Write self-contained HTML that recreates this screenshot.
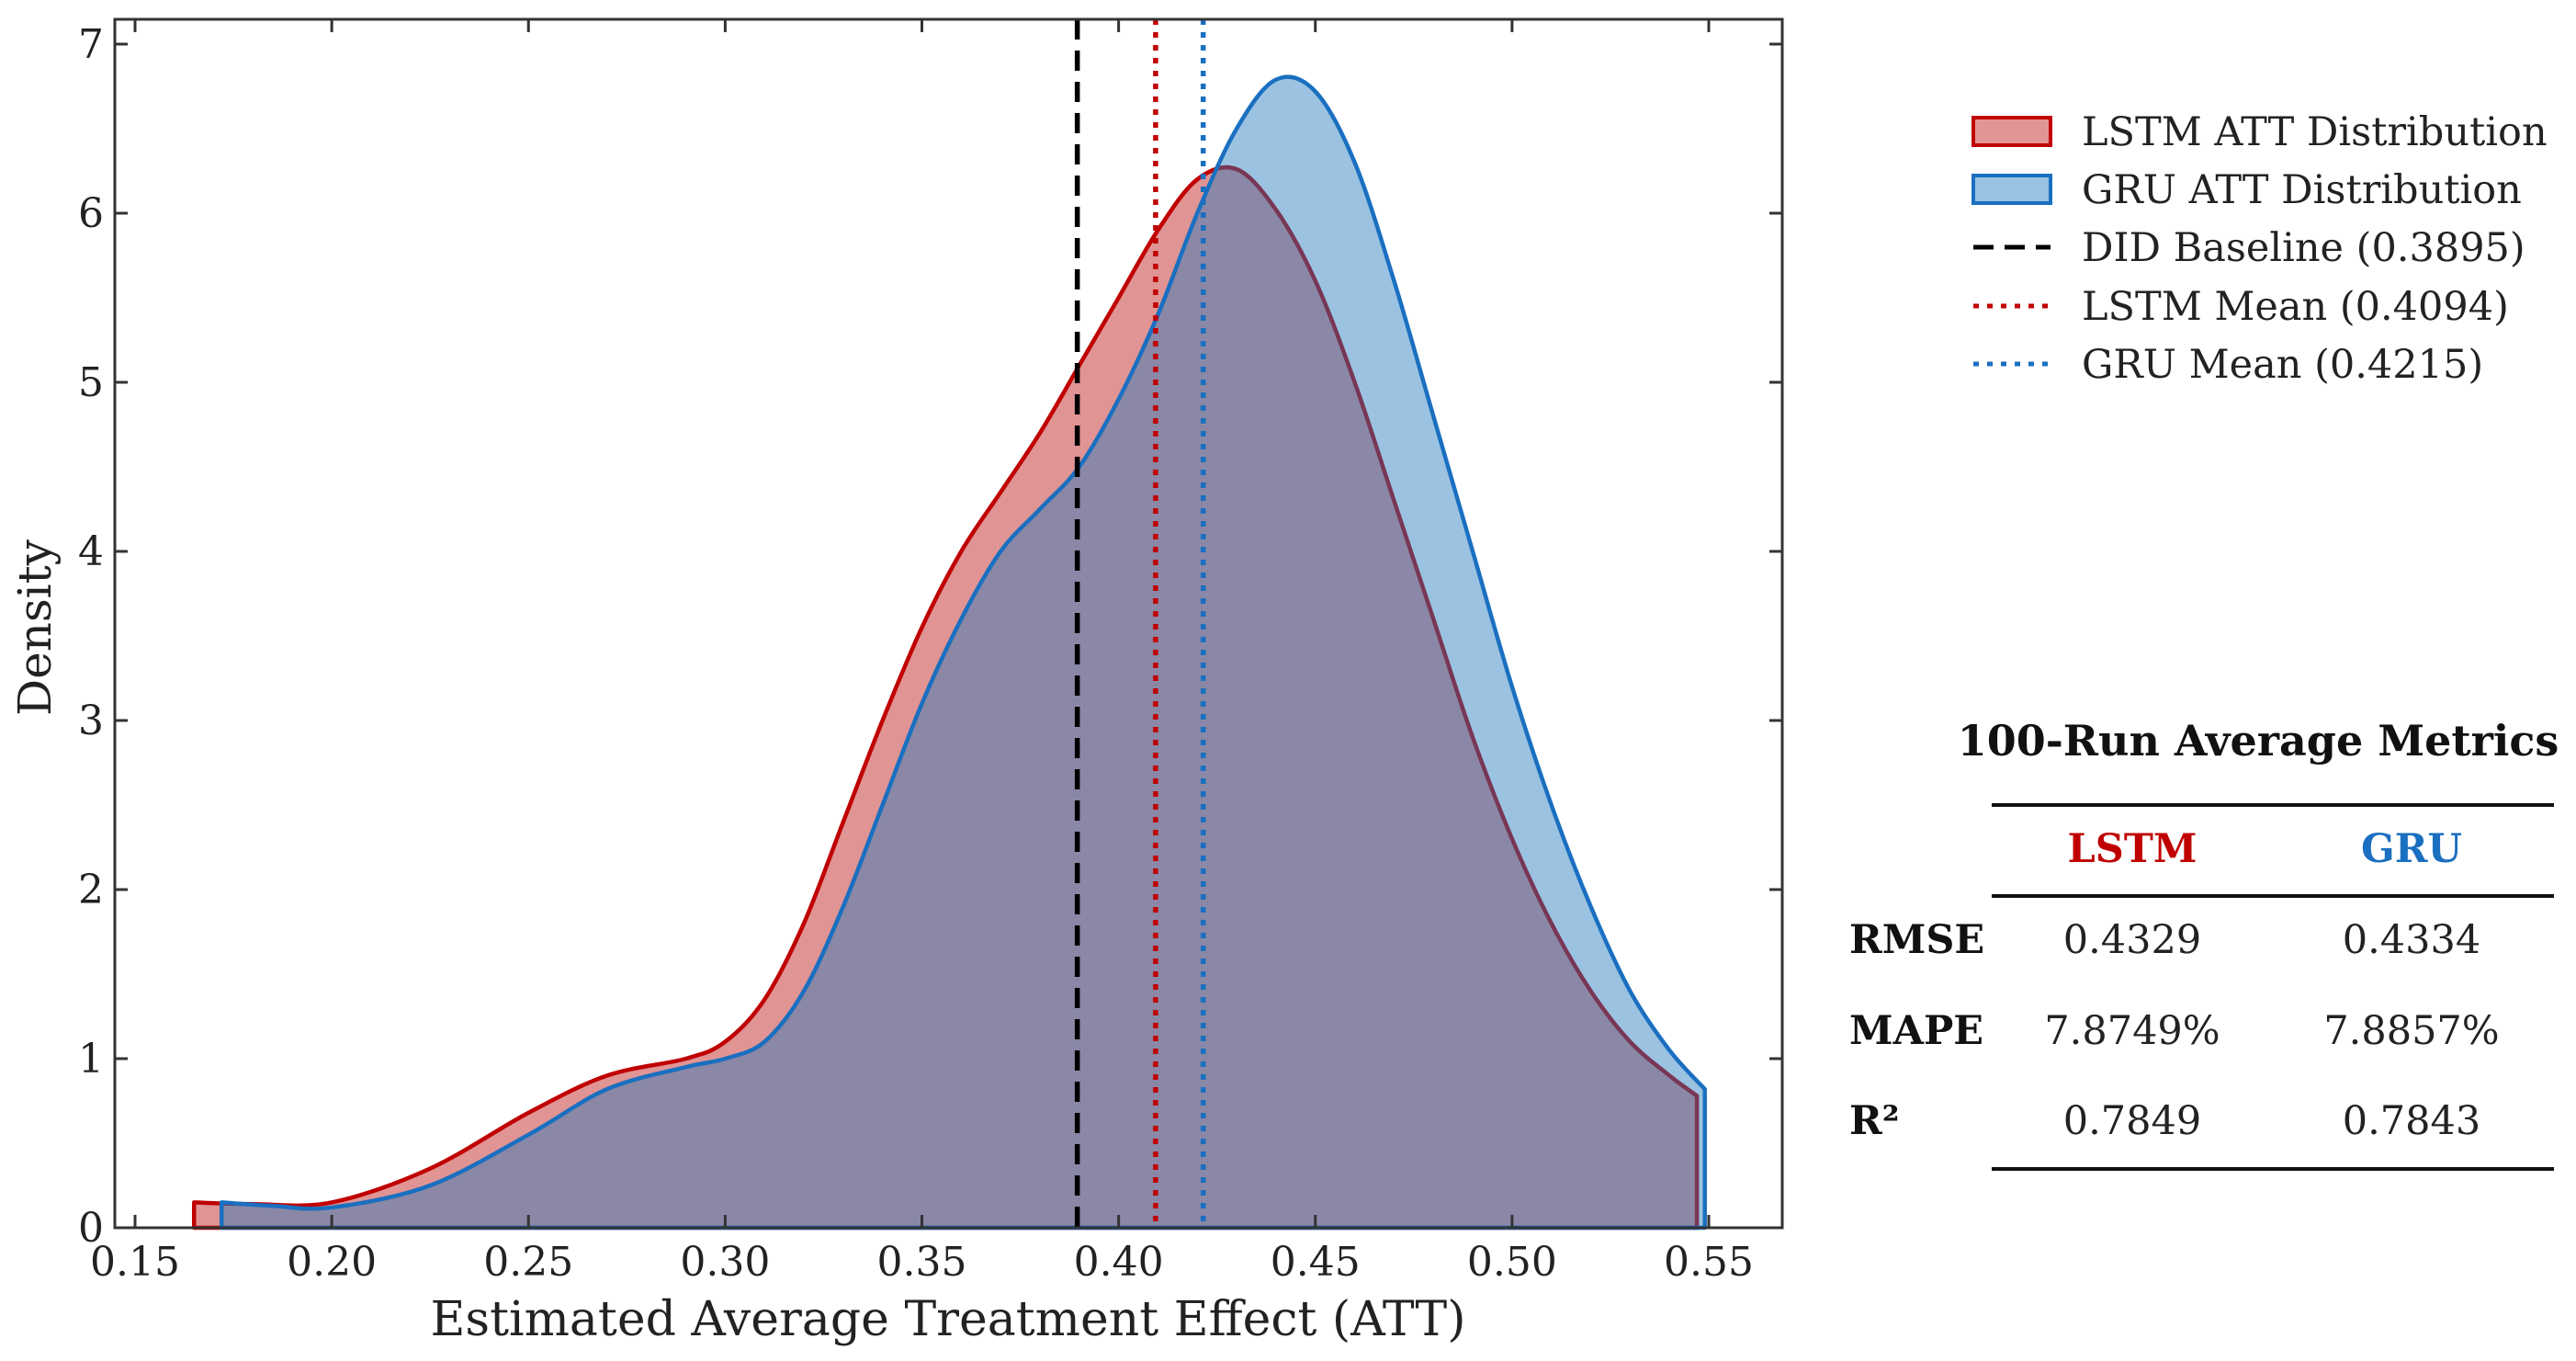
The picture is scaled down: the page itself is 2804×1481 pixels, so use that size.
<!DOCTYPE html>
<html><head><meta charset="utf-8">
<style>
html,body{margin:0;padding:0;background:#fff;}
svg{display:block;font-family:"DejaVu Serif","Liberation Serif",serif;}
</style></head>
<body>
<svg id="chart" width="2804" height="1481" viewBox="0 0 2804 1481" xmlns="http://www.w3.org/2000/svg">
<g id="plot"></g>
<g id="legend"></g>
<g id="table"></g>
</svg>
<script>
const lstmX = [0.165,0.18,0.20,0.225,0.25,0.27,0.29,0.30,0.31,0.32,0.33,0.34,0.35,0.36,0.37,0.38,0.39,0.40,0.41,0.42,0.43,0.44,0.45,0.46,0.47,0.48,0.49,0.50,0.51,0.52,0.53,0.54,0.547];
const lstmY = [0.15,0.14,0.15,0.35,0.68,0.9,1.0,1.1,1.35,1.8,2.4,3.0,3.55,4.0,4.35,4.7,5.1,5.5,5.9,6.2,6.26,6.02,5.6,5.0,4.3,3.6,2.9,2.3,1.8,1.4,1.1,0.9,0.78];
const gruX = [0.172,0.185,0.20,0.225,0.25,0.27,0.29,0.30,0.31,0.32,0.33,0.34,0.35,0.36,0.37,0.38,0.39,0.40,0.41,0.42,0.43,0.44,0.45,0.46,0.47,0.48,0.49,0.50,0.51,0.52,0.53,0.54,0.549];
const gruY = [0.15,0.13,0.12,0.25,0.55,0.82,0.95,1.0,1.1,1.4,1.9,2.5,3.1,3.6,4.0,4.25,4.5,4.9,5.4,6.0,6.5,6.79,6.72,6.3,5.6,4.8,4.0,3.2,2.5,1.9,1.4,1.05,0.82];
const didValue = 0.3895, lstmMean = 0.4094, gruMean = 0.4215;
const xTicks = [0.15,0.20,0.25,0.30,0.35,0.40,0.45,0.50,0.55];
const yTicks = [0,1,2,3,4,5,6,7];
const legendLabels = ["LSTM ATT Distribution","GRU ATT Distribution","DID Baseline (0.3895)","LSTM Mean (0.4094)","GRU Mean (0.4215)"];
const tableCols = ["LSTM","GRU"];
const tableRows = ["RMSE","MAPE","R²"];
const lstmMetrics = ["0.4329","7.8749%","0.7849"];
const gruMetrics = ["0.4334","7.8857%","0.7843"];

const NS="http://www.w3.org/2000/svg";
const L=125,R=1940,T=21,B=1336;
const xs=v=>147+(v-0.15)*(1860-147)/0.4;
const ys=v=>1336-v*(1336-48)/7;
function mk(tag,attrs,parent){const e=document.createElementNS(NS,tag);for(const k in attrs)e.setAttribute(k,attrs[k]);parent.appendChild(e);return e;}
const plot=document.getElementById('plot');

function curve(X,Y){
  const p=X.map((x,i)=>[xs(x),ys(Y[i])]);
  let d=`M${p[0][0]},${B} L${p[0][0]},${p[0][1]}`;
  for(let i=0;i<p.length-1;i++){
    const p0=p[Math.max(0,i-1)],p1=p[i],p2=p[i+1],p3=p[Math.min(p.length-1,i+2)];
    const c1=[p1[0]+(p2[0]-p0[0])/6,p1[1]+(p2[1]-p0[1])/6];
    const c2=[p2[0]-(p3[0]-p1[0])/6,p2[1]-(p3[1]-p1[1])/6];
    d+=` C${c1[0]},${c1[1]} ${c2[0]},${c2[1]} ${p2[0]},${p2[1]}`;
  }
  d+=` L${p[p.length-1][0]},${B} Z`;
  return d;
}
const lf=mk('path',{d:curve(lstmX,lstmY),fill:'rgba(187,17,17,0.45)',stroke:'#c00000','stroke-width':4.5,'stroke-linejoin':'round'},plot);


const gf=mk('path',{d:curve(gruX,gruY),fill:'rgba(33,122,189,0.45)',stroke:'#1a6fc0','stroke-width':4.5,'stroke-linejoin':'round'},plot);



const vl=[[didValue,'#000','22,12','did-baseline-line'],[lstmMean,'#c00000','6,8','lstm-mean-line'],[gruMean,'#1a6fc0','6,8','gru-mean-line']];
vl.forEach(v=>{const e=mk('line',{x1:xs(v[0]),x2:xs(v[0]),y1:T,y2:B,stroke:v[1],'stroke-width':5.5,'stroke-dasharray':v[2]},plot);

});

const fr=mk('rect',{x:L,y:T,width:R-L,height:B-T,fill:'none',stroke:'#333','stroke-width':3},plot);


xTicks.forEach(t=>{const x=xs(t);
 mk('line',{x1:x,x2:x,y1:B,y2:B-14,stroke:'#333','stroke-width':3},plot);
 mk('line',{x1:x,x2:x,y1:T,y2:T+14,stroke:'#333','stroke-width':3},plot);
 const tx=mk('text',{x:x,y:B+52,'font-size':44,'text-anchor':'middle',fill:'#222'},plot);tx.textContent=t.toFixed(2);
 
 });
yTicks.forEach(t=>{const y=ys(t);
 mk('line',{x1:L,x2:L+14,y1:y,y2:y,stroke:'#333','stroke-width':3},plot);
 mk('line',{x1:R,x2:R-14,y1:y,y2:y,stroke:'#333','stroke-width':3},plot);
 const tx=mk('text',{x:L-12,y:y+15,'font-size':44,'text-anchor':'end',fill:'#222'},plot);tx.textContent=t;
 
 });
const xt=mk('text',{x:1032,y:1453,'font-size':52,'text-anchor':'middle',fill:'#222'},plot);xt.textContent='Estimated Average Treatment Effect (ATT)';


const yt=mk('text',{x:55,y:683,'font-size':50,'text-anchor':'middle',fill:'#222',transform:'rotate(-90 55 683)'},plot);yt.textContent='Density';



const lg=document.getElementById('legend');
const ly=[143,206,269,333,396];
legendLabels.forEach((s,i)=>{const y=ly[i];
 if(i<2){mk('rect',{x:2148,y:y-15,width:84,height:30,fill:i==0?'#e19595':'#99c3e3',stroke:i==0?'#c00000':'#1a6fc0','stroke-width':4},lg);}
 else{mk('line',{x1:2148,x2:2232,y1:y,y2:y,stroke:['#000','#c00000','#1a6fc0'][i-2],'stroke-width':5,'stroke-dasharray':i==2?'22,12':'6,9'},lg);}
 const t=mk('text',{x:2266,y:y+15,'font-size':43,fill:'#222'},lg);t.textContent=s;
 
 });

const tb=document.getElementById('table');
const tt=mk('text',{x:2458,y:822,'font-size':46,'font-weight':'bold','text-anchor':'middle',fill:'#111'},tb);tt.textContent='100-Run Average Metrics';


[876,975,1272].forEach(y=>mk('line',{x1:2168,x2:2780,y1:y,y2:y,stroke:'#111','stroke-width':4},tb));
const cx=[2321,2625];
tableCols.forEach((c,i)=>{const t=mk('text',{x:cx[i],y:938,'font-size':43,'font-weight':'bold','text-anchor':'middle',fill:i==0?'#c00000':'#1a6fc0'},tb);t.textContent=c;
 
 });
const ry=[1037,1136,1234];
tableRows.forEach((r,i)=>{
 const a=mk('text',{x:2013,y:ry[i],'font-size':43,'font-weight':'bold',fill:'#111'},tb);a.textContent=r;
 
 
 const b=mk('text',{x:cx[0],y:ry[i],'font-size':43,'text-anchor':'middle',fill:'#222'},tb);b.textContent=lstmMetrics[i];
 
 
 const c=mk('text',{x:cx[1],y:ry[i],'font-size':43,'text-anchor':'middle',fill:'#222'},tb);c.textContent=gruMetrics[i];
 
 });
</script>
</body></html>
